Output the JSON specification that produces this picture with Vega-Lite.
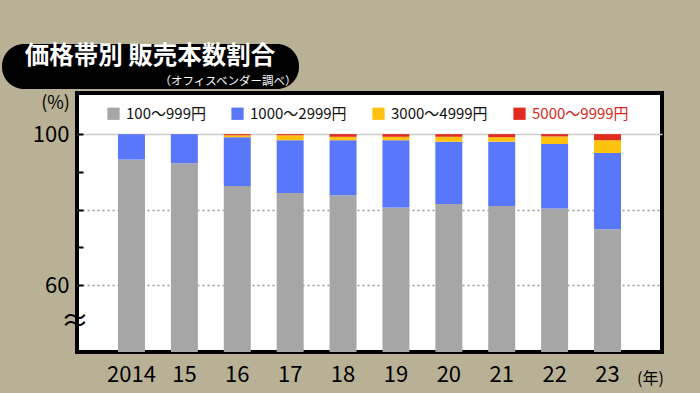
{
  "$schema": "https://vega.github.io/schema/vega-lite/v6.json",
  "width": 585,
  "height": 259,
  "autosize": {"type": "none"},
  "padding": {"left": 77, "top": 93, "right": 38, "bottom": 41},
  "background": "#b9b196",
  "config": {
    "font": "Noto Sans CJK JP",
    "view": {"fill": "white", "stroke": "black", "strokeWidth": 4}
  },
  "data": {
    "values": [
      {"year": "2014", "band": "100〜999円", "share": 93.3, "source": "（オフィスベンダー調べ）"},
      {"year": "2014", "band": "1000〜2999円", "share": 6.7, "source": "（オフィスベンダー調べ）"},
      {"year": "2014", "band": "3000〜4999円", "share": 0, "source": "（オフィスベンダー調べ）"},
      {"year": "2014", "band": "5000〜9999円", "share": 0, "source": "（オフィスベンダー調べ）"},
      {"year": "2015", "band": "100〜999円", "share": 92.3, "source": "（オフィスベンダー調べ）"},
      {"year": "2015", "band": "1000〜2999円", "share": 7.7, "source": "（オフィスベンダー調べ）"},
      {"year": "2015", "band": "3000〜4999円", "share": 0, "source": "（オフィスベンダー調べ）"},
      {"year": "2015", "band": "5000〜9999円", "share": 0, "source": "（オフィスベンダー調べ）"},
      {"year": "2016", "band": "100〜999円", "share": 86.3, "source": "（オフィスベンダー調べ）"},
      {"year": "2016", "band": "1000〜2999円", "share": 12.9, "source": "（オフィスベンダー調べ）"},
      {"year": "2016", "band": "3000〜4999円", "share": 0.5, "source": "（オフィスベンダー調べ）"},
      {"year": "2016", "band": "5000〜9999円", "share": 0.3, "source": "（オフィスベンダー調べ）"},
      {"year": "2017", "band": "100〜999円", "share": 84.4, "source": "（オフィスベンダー調べ）"},
      {"year": "2017", "band": "1000〜2999円", "share": 14.0, "source": "（オフィスベンダー調べ）"},
      {"year": "2017", "band": "3000〜4999円", "share": 1.3, "source": "（オフィスベンダー調べ）"},
      {"year": "2017", "band": "5000〜9999円", "share": 0.3, "source": "（オフィスベンダー調べ）"},
      {"year": "2018", "band": "100〜999円", "share": 83.8, "source": "（オフィスベンダー調べ）"},
      {"year": "2018", "band": "1000〜2999円", "share": 14.6, "source": "（オフィスベンダー調べ）"},
      {"year": "2018", "band": "3000〜4999円", "share": 0.9, "source": "（オフィスベンダー調べ）"},
      {"year": "2018", "band": "5000〜9999円", "share": 0.7, "source": "（オフィスベンダー調べ）"},
      {"year": "2019", "band": "100〜999円", "share": 80.6, "source": "（オフィスベンダー調べ）"},
      {"year": "2019", "band": "1000〜2999円", "share": 17.8, "source": "（オフィスベンダー調べ）"},
      {"year": "2019", "band": "3000〜4999円", "share": 0.9, "source": "（オフィスベンダー調べ）"},
      {"year": "2019", "band": "5000〜9999円", "share": 0.7, "source": "（オフィスベンダー調べ）"},
      {"year": "2020", "band": "100〜999円", "share": 81.5, "source": "（オフィスベンダー調べ）"},
      {"year": "2020", "band": "1000〜2999円", "share": 16.5, "source": "（オフィスベンダー調べ）"},
      {"year": "2020", "band": "3000〜4999円", "share": 1.3, "source": "（オフィスベンダー調べ）"},
      {"year": "2020", "band": "5000〜9999円", "share": 0.7, "source": "（オフィスベンダー調べ）"},
      {"year": "2021", "band": "100〜999円", "share": 81.0, "source": "（オフィスベンダー調べ）"},
      {"year": "2021", "band": "1000〜2999円", "share": 17.0, "source": "（オフィスベンダー調べ）"},
      {"year": "2021", "band": "3000〜4999円", "share": 1.2, "source": "（オフィスベンダー調べ）"},
      {"year": "2021", "band": "5000〜9999円", "share": 0.8, "source": "（オフィスベンダー調べ）"},
      {"year": "2022", "band": "100〜999円", "share": 80.3, "source": "（オフィスベンダー調べ）"},
      {"year": "2022", "band": "1000〜2999円", "share": 17.1, "source": "（オフィスベンダー調べ）"},
      {"year": "2022", "band": "3000〜4999円", "share": 2.0, "source": "（オフィスベンダー調べ）"},
      {"year": "2022", "band": "5000〜9999円", "share": 0.6, "source": "（オフィスベンダー調べ）"},
      {"year": "2023", "band": "100〜999円", "share": 74.8, "source": "（オフィスベンダー調べ）"},
      {"year": "2023", "band": "1000〜2999円", "share": 20.2, "source": "（オフィスベンダー調べ）"},
      {"year": "2023", "band": "3000〜4999円", "share": 3.4, "source": "（オフィスベンダー調べ）"},
      {"year": "2023", "band": "5000〜9999円", "share": 1.6, "source": "（オフィスベンダー調べ）"}
    ]
  },
  "transform": [
    {"calculate": "indexof(['100〜999円','1000〜2999円','3000〜4999円','5000〜9999円'], datum.band)", "as": "rank"}
  ],
  "mark": {"type": "bar"},
  "encoding": {
    "x": {
      "field": "year",
      "type": "ordinal",
      "scale": {"paddingInner": 0.49, "paddingOuter": 0.775},
      "axis": {
        "labelExpr": "datum.value == '2014' ? datum.value : substring(datum.value, 2)",
        "labelAngle": 0,
        "labelFontSize": 22,
        "labelColor": "black",
        "labelPadding": 12,
        "domain": false,
        "ticks": false,
        "title": "(年)",
        "titleFontSize": 16,
        "titleFontWeight": "normal",
        "titleColor": "black",
        "titleX": 573,
        "titleY": 26,
        "titleAlign": "center",
        "titleBaseline": "middle"
      }
    },
    "y": {
      "field": "share",
      "type": "quantitative",
      "stack": "zero",
      "scale": {"domain": [42.3, 110.9], "clamp": true, "nice": false, "zero": false},
      "axis": {
        "values": [50, 60, 70, 80, 90, 100],
        "labelExpr": "datum.value == 100 || datum.value == 60 ? datum.label : (datum.value == 50 ? '≈' : '')",
        "labelFontSize": {"condition": {"test": "datum.value == 50", "value": 28}, "value": 22},
        "labelPadding": {"condition": {"test": "datum.value == 50", "value": 2.5}, "value": 8},
        "labelAlign": {"condition": {"test": "datum.value == 50", "value": "center"}, "value": "right"},
        "labelColor": "black",
        "domain": false,
        "offset": -6,
        "tickColor": "black",
        "tickSize": 6,
        "tickWidth": 2,
        "tickOpacity": {"condition": {"test": "datum.value == 50", "value": 0}, "value": 1},
        "grid": true,
        "gridColor": {"condition": {"test": "datum.value == 100", "value": "#cccccc"}, "value": "#9a9a9a"},
        "gridOpacity": {"condition": {"test": "datum.value == 50 || datum.value == 70 || datum.value == 90", "value": 0}, "value": 1},
        "gridDash": {"condition": {"test": "datum.value == 100", "value": []}, "value": [2, 3]},
        "gridWidth": 1.5,
        "title": "(%)",
        "titleAngle": 0,
        "titleFontSize": 18,
        "titleFontWeight": "normal",
        "titleColor": "black",
        "titleX": -28,
        "titleY": 10,
        "titleAlign": "center",
        "titleBaseline": "middle"
      }
    },
    "color": {
      "field": "band",
      "type": "nominal",
      "scale": {
        "domain": ["100〜999円", "1000〜2999円", "3000〜4999円", "5000〜9999円"],
        "range": ["#a6a6a6", "#5877fa", "#fec10e", "#e02b1e"]
      },
      "legend": {
        "orient": "none",
        "legendX": 29,
        "legendY": 13,
        "direction": "horizontal",
        "columns": 4,
        "title": null,
        "symbolType": "square",
        "symbolSize": 150,
        "symbolStrokeWidth": 0,
        "symbolOpacity": 1,
        "labelFontSize": 15,
        "labelColor": {"expr": "datum.value == '5000〜9999円' ? '#d8291c' : '#111111'"},
        "labelOffset": 5,
        "labelLimit": 200,
        "columnPadding": 24,
        "padding": 0
      }
    },
    "order": {"field": "rank", "type": "quantitative"},
    "strokeDash": {
      "field": "source",
      "type": "nominal",
      "legend": {
        "orient": "none",
        "legendX": -75,
        "legendY": -49,
        "direction": "vertical",
        "title": "価格帯別 販売本数割合",
        "titleColor": "white",
        "titleFontSize": 24.5,
        "titleFontWeight": "bold",
        "titleAnchor": "middle",
        "titleAlign": "center",
        "titlePadding": 7,
        "titleLimit": 500,
        "fillColor": "black",
        "cornerRadius": 22,
        "padding": 1,
        "labelColor": "white",
        "labelFontSize": 11.5,
        "labelOffset": 145,
        "labelLimit": 300,
        "symbolOpacity": 0,
        "symbolSize": 1,
        "symbolStrokeWidth": 0
      }
    }
  }
}
